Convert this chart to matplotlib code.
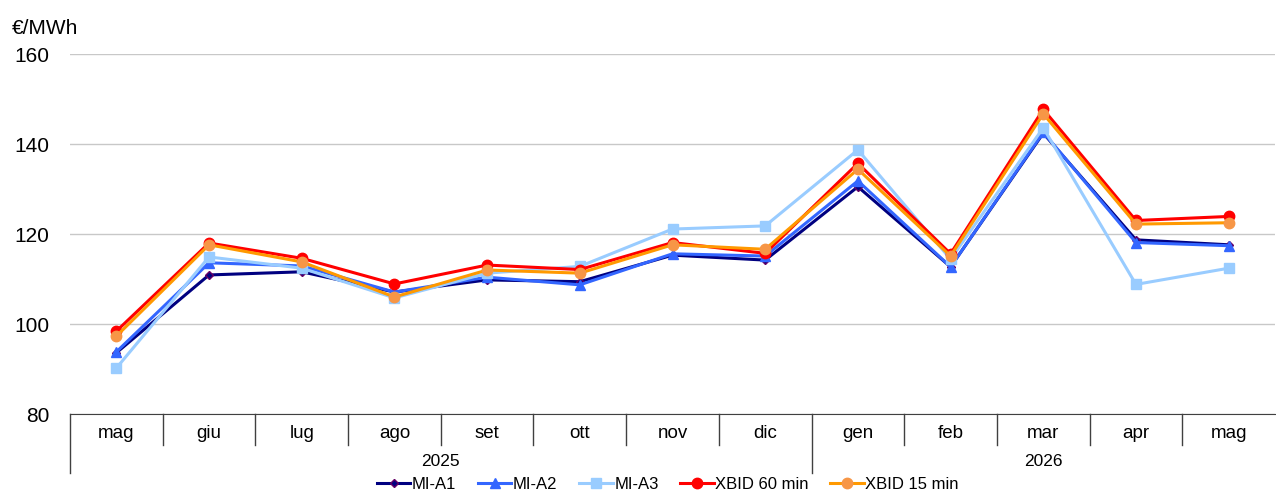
import matplotlib
matplotlib.use('Agg')
from matplotlib import pyplot as plt
from matplotlib.transforms import blended_transform_factory

plt.rcParams['font.family'] = ['Liberation Sans', 'DejaVu Sans']

months = ['mag', 'giu', 'lug', 'ago', 'set', 'ott', 'nov', 'dic',
          'gen', 'feb', 'mar', 'apr', 'mag']
years = [('2025', 0, 7), ('2026', 8, 12)]

mi_a1 = [93.6, 110.9, 111.6, 107.1, 109.8, 109.4, 115.3, 114.2, 130.5, 112.7, 142.4, 118.7, 117.6]
mi_a2 = [93.8, 113.6, 112.9, 107.1, 110.4, 108.7, 115.6, 115.1, 131.8, 112.7, 142.6, 118.1, 117.4]
mi_a3 = [90.2, 114.9, 112.4, 105.8, 111.3, 112.8, 121.1, 121.8, 138.7, 114.4, 143.6, 108.8, 112.4]
xbid_60 = [98.4, 118.0, 114.6, 108.9, 113.1, 112.1, 118.1, 115.7, 135.7, 115.6, 147.7, 123.0, 123.9]
xbid_15 = [97.3, 117.6, 113.8, 106.0, 112.0, 111.3, 117.6, 116.6, 134.4, 115.1, 146.7, 122.2, 122.5]

fig = plt.figure(figsize=(12.76, 4.94), dpi=100)
ax = fig.add_axes([70 / 1276, 1 - 414 / 494, 1205 / 1276, 360 / 494])

x = list(range(len(months)))
series = [
    (mi_a1, 'MI-A1', '#000080', 'D', '#000080', '#660066', 4.5),
    (mi_a2, 'MI-A2', '#3366FF', '^', '#3366FF', '#3366FF', 7),
    (mi_a3, 'MI-A3', '#99CCFF', 's', '#99CCFF', '#99CCFF', 7),
    (xbid_60, 'XBID 60 min', '#FF0000', 'o', '#FF0000', '#FF0000', 7.5),
    (xbid_15, 'XBID 15 min', '#FF9900', 'o', '#F79646', '#F79646', 7.5),
]
for vals, label, color, marker, mfc, mec, ms in series:
    ax.plot(x, vals, color=color, lw=2.2, marker=marker, ms=ms,
            markerfacecolor=mfc, markeredgecolor=mec, label=label, zorder=3)

ax.set_xlim(-0.5, len(months) - 0.5)
ax.set_ylim(80, 160)
ax.set_yticks([80, 100, 120, 140, 160])
ax.yaxis.grid(True, color='#C8C8C8', lw=1)
ax.set_axisbelow(True)
for s in ['top', 'right', 'left']:
    ax.spines[s].set_visible(False)
ax.spines['bottom'].set_color('#404040')
ax.tick_params(axis='y', length=0, labelsize=15, pad=15)
ax.set_xticks(x)
ax.set_xticklabels(months, fontsize=13.5)
ax.tick_params(axis='x', length=0, pad=8)

trans = blended_transform_factory(ax.transData, ax.transAxes)
row1 = -31 / 360
row2 = -59 / 360
for i in range(len(months)):
    b = i - 0.5
    deep = b in (-0.5, 7.5)
    ax.plot([b, b], [0, row2 if deep else row1], transform=trans,
            color='#404040', lw=1, clip_on=False)
for name, a, b in years:
    ax.text((a + b) / 2, -47 / 360, name, transform=trans, ha='center',
            va='center', fontsize=12.5)

fig.text(12 / 1276, 1 - 28 / 494, '€/MWh', fontsize=15, va='center', ha='left')

fig.legend(loc='center', bbox_to_anchor=(668 / 1276, 1 - 484 / 494), ncol=5,
           frameon=False, fontsize=12, handlelength=2, handletextpad=0.1,
           columnspacing=1.3, borderaxespad=0)

fig.savefig('out.png', dpi=100)
